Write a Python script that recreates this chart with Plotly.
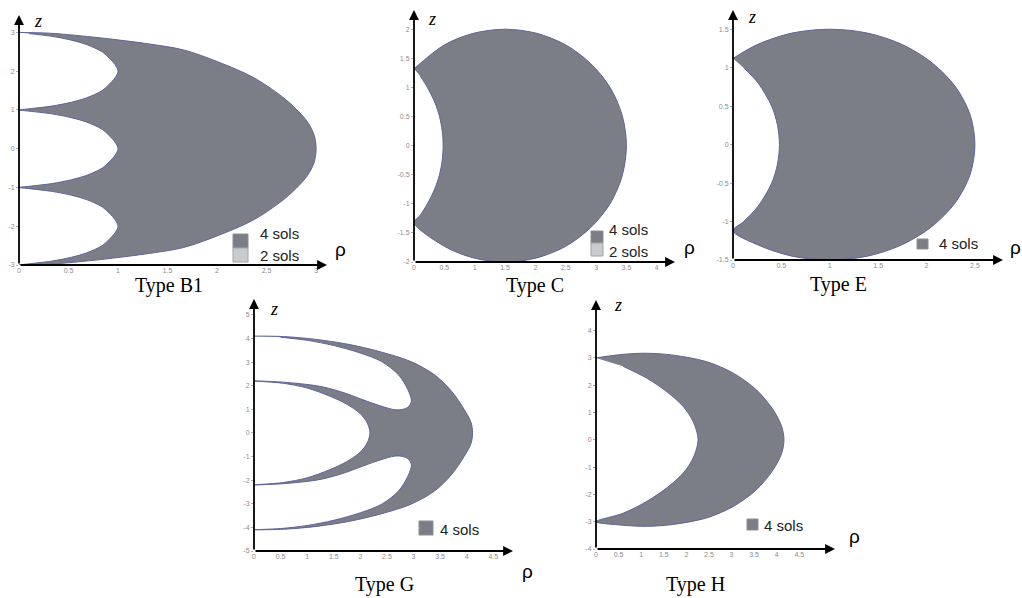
import plotly.graph_objects as go

W, H = 1022, 598
FILL = "#7b7e86"
EDGE = "#5f6598"
LIGHT = "#c9cbcf"

# ---------------- data: region boundaries (rho, z) ----------------
# Type B1
B1_OUTER_RHO = [0, 0.31, 0.82, 1.32, 1.66, 2.0, 2.38, 2.72, 2.91, 2.98, 3.0, 2.98, 2.91, 2.72, 2.38, 2.0, 1.66, 1.32, 0.82, 0.31, 0]
B1_OUTER_Z = [3, 2.98, 2.86, 2.70, 2.55, 2.25, 1.82, 1.21, 0.70, 0.35, 0, -0.35, -0.70, -1.21, -1.82, -2.25, -2.55, -2.70, -2.86, -2.98, -3]
B1_LOBE_LOW_RHO = [0.10, 0.33, 0.53, 0.68, 0.84, 0.91, 0.97, 1.0, 0.97, 0.91, 0.84, 0.68, 0.53, 0.33, 0.10, 0]
B1_LOBE_LOW_Z = [-2.97, -2.9, -2.8, -2.69, -2.5, -2.34, -2.17, -2.0, -1.83, -1.66, -1.5, -1.31, -1.2, -1.1, -1.03, -1.0]
B1_LOBE_MID_RHO = [0.10, 0.33, 0.53, 0.68, 0.84, 0.91, 0.97, 1.0, 0.97, 0.91, 0.84, 0.68, 0.53, 0.33, 0.10, 0]
B1_LOBE_MID_Z = [-0.97, -0.9, -0.8, -0.69, -0.5, -0.34, -0.17, 0, 0.17, 0.34, 0.5, 0.69, 0.8, 0.9, 0.97, 1.0]
B1_LOBE_TOP_RHO = [0.10, 0.33, 0.53, 0.68, 0.84, 0.91, 0.97, 1.0, 0.97, 0.91, 0.84, 0.68, 0.53, 0.33, 0.10]
B1_LOBE_TOP_Z = [1.03, 1.1, 1.2, 1.31, 1.5, 1.66, 1.83, 2.0, 2.17, 2.34, 2.5, 2.69, 2.8, 2.9, 2.97]

# Type C
C_OUTER_RHO = [0, 0.5, 0.98, 1.5, 2.02, 2.5, 2.91, 3.23, 3.43, 3.5, 3.43, 3.23, 2.91, 2.5, 2.02, 1.5, 0.98, 0.5, 0]
C_OUTER_Z = [1.32, 1.73, 1.93, 2.0, 1.93, 1.73, 1.41, 1.0, 0.52, 0, -0.52, -1.0, -1.41, -1.73, -1.93, -2.0, -1.93, -1.73, -1.32]
C_INNER_RHO = [0.10, 0.22, 0.34, 0.42, 0.465, 0.48, 0.465, 0.42, 0.34, 0.22, 0.10]
C_INNER_Z = [-1.2, -1.0, -0.75, -0.5, -0.25, 0, 0.25, 0.5, 0.75, 1.0, 1.2]

# Type E
E_OUTER_RHO = [0, 0.25, 0.61, 1.0, 1.39, 1.75, 2.06, 2.30, 2.45, 2.5, 2.45, 2.30, 2.06, 1.75, 1.39, 1.0, 0.61, 0.25, 0]
E_OUTER_Z = [1.12, 1.30, 1.45, 1.5, 1.45, 1.30, 1.06, 0.75, 0.39, 0, -0.39, -0.75, -1.06, -1.30, -1.45, -1.5, -1.45, -1.30, -1.12]
E_INNER_RHO = [0.11, 0.26, 0.40, 0.46, 0.48, 0.46, 0.40, 0.26, 0.11]
E_INNER_Z = [-1.0, -0.8, -0.5, -0.25, 0, 0.25, 0.5, 0.8, 1.0]

# Type G
G_OUTER_RHO = [0, 0.55, 1.17, 1.80, 2.40, 2.95, 3.40, 3.72, 3.95, 4.08, 4.11, 4.08, 3.95, 3.72, 3.40, 2.95, 2.40, 1.80, 1.17, 0.55, 0]
G_OUTER_Z = [4.1, 4.08, 3.96, 3.74, 3.42, 3.02, 2.45, 1.75, 1.0, 0.45, 0, -0.45, -1.0, -1.75, -2.45, -3.02, -3.42, -3.74, -3.96, -4.08, -4.1]
G_LOW_BAND_RHO = [0.5, 1.0, 1.5, 2.0, 2.4, 2.72, 2.9, 2.96, 2.9, 2.8]
G_LOW_BAND_Z = [-4.05, -3.92, -3.7, -3.38, -3.02, -2.45, -1.8, -1.35, -1.1, -1.0]
G_LOW_ARM_RHO = [2.65, 2.37, 2.05, 1.72, 1.42, 1.17, 0.55, 0]
G_LOW_ARM_Z = [-0.98, -1.15, -1.4, -1.68, -1.88, -2.0, -2.15, -2.2]
G_CENTER_RHO = [0.55, 1.0, 1.42, 1.74, 1.99, 2.13, 2.18, 2.13, 1.99, 1.74, 1.42, 1.0, 0.55]
G_CENTER_Z = [-2.1, -1.9, -1.56, -1.22, -0.83, -0.42, 0, 0.42, 0.83, 1.22, 1.56, 1.9, 2.1]
G_UP_ARM_RHO = [0, 0.55, 1.17, 1.42, 1.72, 2.05, 2.37, 2.65, 2.8]
G_UP_ARM_Z = [2.2, 2.15, 2.0, 1.88, 1.68, 1.4, 1.15, 0.98, 1.0]
G_UP_BAND_RHO = [2.9, 2.96, 2.9, 2.72, 2.4, 2.0, 1.5, 1.0, 0.5]
G_UP_BAND_Z = [1.1, 1.35, 1.8, 2.45, 3.02, 3.38, 3.7, 3.92, 4.05]

# Type H
H_OUTER_RHO = [0, 0.6, 1.12, 1.71, 2.45, 3.04, 3.55, 3.92, 4.11, 4.16, 4.11, 3.92, 3.55, 3.04, 2.45, 1.71, 1.12, 0.6, 0]
H_OUTER_Z = [3.0, 3.13, 3.17, 3.10, 2.86, 2.44, 1.83, 1.10, 0.49, 0, -0.49, -1.10, -1.83, -2.44, -2.86, -3.10, -3.17, -3.13, -3.0]
H_INNER_RHO = [0.6, 1.12, 1.56, 1.93, 2.15, 2.26, 2.15, 1.93, 1.56, 1.12, 0.6]
H_INNER_Z = [-2.69, -2.26, -1.77, -1.22, -0.67, 0, 0.67, 1.22, 1.77, 2.26, 2.69]

# tick values
B1_XTICKS = [0, 0.5, 1, 1.5, 2, 2.5, 3]
B1_YTICKS = [-3, -2, -1, 0, 1, 2, 3]
C_XTICKS = [0, 0.5, 1, 1.5, 2, 2.5, 3, 3.5, 4]
C_YTICKS = [-2, -1.5, -1, -0.5, 0, 0.5, 1, 1.5, 2]
E_XTICKS = [0, 0.5, 1, 1.5, 2, 2.5]
E_YTICKS = [-1.5, -1, -0.5, 0, 0.5, 1, 1.5]
G_XTICKS = [0, 0.5, 1, 1.5, 2, 2.5, 3, 3.5, 4, 4.5]
G_YTICKS = [-5, -4, -3, -2, -1, 0, 1, 2, 3, 4, 5]
H_XTICKS = [0, 0.5, 1, 1.5, 2, 2.5, 3, 3.5, 4, 4.5]
H_YTICKS = [-4, -3, -2, -1, 0, 1, 2, 3, 4]

TITLES = ["Type B1", "Type C", "Type E", "Type G", "Type H"]
LEGEND_4 = "4 sols"
LEGEND_2 = "2 sols"

# ---------------- build polygons ----------------
SHAPES = [
    (B1_OUTER_RHO + B1_LOBE_LOW_RHO + B1_LOBE_MID_RHO + B1_LOBE_TOP_RHO,
     B1_OUTER_Z + B1_LOBE_LOW_Z + B1_LOBE_MID_Z + B1_LOBE_TOP_Z),
    (C_OUTER_RHO + C_INNER_RHO, C_OUTER_Z + C_INNER_Z),
    (E_OUTER_RHO + E_INNER_RHO, E_OUTER_Z + E_INNER_Z),
    (G_OUTER_RHO + G_LOW_BAND_RHO + G_LOW_ARM_RHO + G_CENTER_RHO + G_UP_ARM_RHO + G_UP_BAND_RHO,
     G_OUTER_Z + G_LOW_BAND_Z + G_LOW_ARM_Z + G_CENTER_Z + G_UP_ARM_Z + G_UP_BAND_Z),
    (H_OUTER_RHO + H_INNER_RHO, H_OUTER_Z + H_INNER_Z),
]

# layout of panels in pixels: x-extent (origin -> arrow tip), y-extent (arrow tip -> origin)
PANELS = [
    dict(px=(19, 327), py=(15, 265), xr=(0, 3.11), yr=(-3, 3.45), xt=B1_XTICKS, yt=B1_YTICKS,
         title=(169, 285), zlab=(38, 21), rholab=(340, 250)),
    dict(px=(414, 675), py=(10, 262), xr=(0, 4.30), yr=(-2, 2.33), xt=C_XTICKS, yt=C_YTICKS,
         title=(535, 285), zlab=(432, 19), rholab=(689, 247)),
    dict(px=(733, 1003), py=(10, 260), xr=(0, 2.79), yr=(-1.5, 1.75), xt=E_XTICKS, yt=E_YTICKS,
         title=(838, 284), zlab=(752, 17), rholab=(1015, 247)),
    dict(px=(254, 513), py=(299, 551), xr=(0, 4.87), yr=(-5, 5.67), xt=G_XTICKS, yt=G_YTICKS,
         title=(384, 584), zlab=(274, 309), rholab=(527, 571)),
    dict(px=(596, 835), py=(300, 549), xr=(0, 5.29), yr=(-4, 5.12), xt=H_XTICKS, yt=H_YTICKS,
         title=(695, 584), zlab=(618, 305), rholab=(854, 536)),
]

# legend boxes (pixels) : (x0, y0, x1, y1)
LEG4 = [(233, 234, 248, 248), (591, 231, 603, 243), (917, 239, 928, 249), (419, 521, 433, 535), (747, 519, 758, 530)]
LEG2 = [(233, 248, 248, 262), (591, 243, 603, 256), None, None, None]
LEG4_TXT = [(258, 233), (607, 230), (937, 243), (438, 529), (762, 525)]
LEG2_TXT = [(258, 255), (607, 252), None, None, None]


def fx(p):
    return p / W


def fy(p):
    return 1 - p / H


def fmt(v):
    return "%g" % v


fig = go.Figure()
annotations = []
shapes = []
layout_axes = {}

for i, (panel, (rr, zz)) in enumerate(zip(PANELS, SHAPES)):
    n = "" if i == 0 else str(i + 1)
    xa, ya = "x" + n, "y" + n
    fig.add_trace(go.Scatter(
        x=rr, y=zz, mode="lines", fill="toself", fillcolor=FILL,
        line=dict(color=EDGE, width=1, shape="spline", smoothing=0.9),
        hoverinfo="skip", showlegend=False, xaxis=xa, yaxis=ya))

    common = dict(showgrid=False, zeroline=False, showline=False, automargin=False,
                  tickfont=dict(size=7, color="#8c8c8c", family="Liberation Sans"),
                  fixedrange=True)
    layout_axes["xaxis" + n] = dict(domain=[fx(panel["px"][0]), fx(panel["px"][1])],
                                    range=list(panel["xr"]), anchor=ya, ticks="",
                                    tickvals=panel["xt"], ticktext=[fmt(v) for v in panel["xt"]],
                                    **common)
    layout_axes["yaxis" + n] = dict(domain=[fy(panel["py"][1]), fy(panel["py"][0])],
                                    range=list(panel["yr"]), anchor=xa,
                                    ticks="outside", ticklen=2, tickwidth=1, tickcolor="#b0b0b0",
                                    tickvals=panel["yt"], ticktext=[fmt(v) for v in panel["yt"]],
                                    **common)

    x0, x1 = panel["xr"]
    y0, y1 = panel["yr"]
    # axis arrows
    for (hx, hy) in [(x1, y0), (x0, y1)]:
        annotations.append(dict(x=hx, y=hy, ax=x0, ay=y0, xref=xa, yref=ya, axref=xa, ayref=ya,
                                text="", showarrow=True, arrowhead=2, arrowsize=1.1,
                                arrowwidth=1.8, arrowcolor="black", standoff=0, startstandoff=0))
    # title
    tx, ty = panel["title"]
    annotations.append(dict(x=fx(tx), y=fy(ty), xref="paper", yref="paper", text=TITLES[i],
                            showarrow=False, xanchor="center", yanchor="middle",
                            font=dict(family="Liberation Serif", size=20, color="black")))
    # z label
    zx, zy = panel["zlab"]
    annotations.append(dict(x=fx(zx), y=fy(zy), xref="paper", yref="paper", text="<i>z</i>",
                            showarrow=False, xanchor="center", yanchor="middle",
                            font=dict(family="Liberation Serif", size=18, color="black")))
    # rho label
    rx, ry = panel["rholab"]
    annotations.append(dict(x=fx(rx), y=fy(ry), xref="paper", yref="paper", text="ρ",
                            showarrow=False, xanchor="center", yanchor="middle",
                            font=dict(family="Liberation Sans", size=19, color="black")))
    # legend
    b = LEG4[i]
    shapes.append(dict(type="rect", xref="paper", yref="paper", x0=fx(b[0]), x1=fx(b[2]),
                       y0=fy(b[3]), y1=fy(b[1]), fillcolor=FILL,
                       line=dict(color="#8d8f94", width=1)))
    lx, ly = LEG4_TXT[i]
    annotations.append(dict(x=fx(lx), y=fy(ly), xref="paper", yref="paper", text=LEGEND_4,
                            showarrow=False, xanchor="left", yanchor="middle",
                            font=dict(family="Liberation Sans", size=15, color="#222")))
    if LEG2[i] is not None:
        b = LEG2[i]
        shapes.append(dict(type="rect", xref="paper", yref="paper", x0=fx(b[0]), x1=fx(b[2]),
                           y0=fy(b[3]), y1=fy(b[1]), fillcolor=LIGHT,
                           line=dict(color="#a0a2a6", width=1)))
        lx, ly = LEG2_TXT[i]
        annotations.append(dict(x=fx(lx), y=fy(ly), xref="paper", yref="paper", text=LEGEND_2,
                                showarrow=False, xanchor="left", yanchor="middle",
                                font=dict(family="Liberation Sans", size=15, color="#222")))

fig.update_layout(
    width=W, height=H,
    margin=dict(l=0, r=0, t=0, b=0),
    paper_bgcolor="white", plot_bgcolor="rgba(0,0,0,0)",
    showlegend=False,
    annotations=annotations,
    shapes=shapes,
    **layout_axes,
)

fig.write_html("out.html", config={"displayModeBar": False},
               post_script="document.body.style.margin='0';document.body.style.padding='0';")
